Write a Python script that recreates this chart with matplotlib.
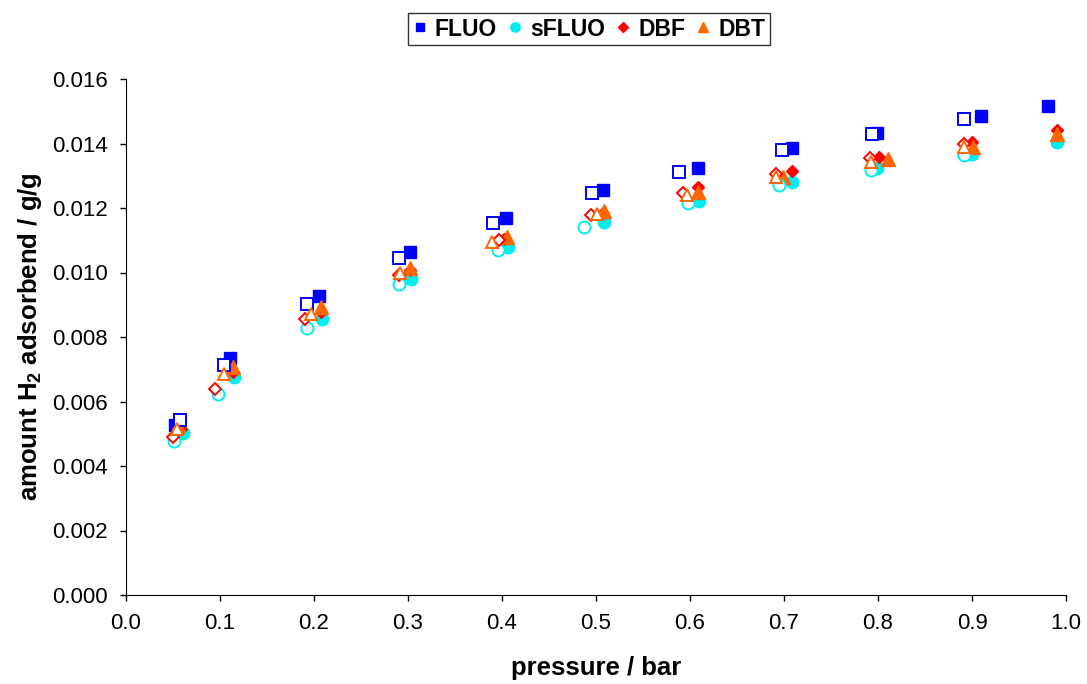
import numpy as np
import matplotlib
matplotlib.use("Agg")
import matplotlib.pyplot as plt
from matplotlib.lines import Line2D

plt.rcParams['font.family'] = ['Liberation Sans', 'DejaVu Sans']
plt.rcParams['mathtext.fontset'] = 'custom'
plt.rcParams['mathtext.rm'] = 'Liberation Sans'
plt.rcParams['mathtext.bf'] = 'Liberation Sans:bold'

# adsorption (filled markers)
fluo_ads_p = [0.052, 0.111, 0.205, 0.302, 0.404, 0.507, 0.609, 0.709, 0.799, 0.910, 0.981]
fluo_ads_v = [0.00527, 0.00735, 0.00927, 0.01064, 0.01169, 0.01256, 0.01324, 0.01386, 0.01433, 0.01485, 0.01516]
sfluo_ads_p = [0.061, 0.115, 0.208, 0.303, 0.406, 0.508, 0.610, 0.709, 0.799, 0.900, 0.990]
sfluo_ads_v = [0.00502, 0.00676, 0.00856, 0.00980, 0.01079, 0.01156, 0.01222, 0.01280, 0.01324, 0.01367, 0.01405]
dbf_ads_p = [0.058, 0.114, 0.207, 0.302, 0.402, 0.507, 0.609, 0.709, 0.801, 0.900, 0.990]
dbf_ads_v = [0.00515, 0.00690, 0.00878, 0.01008, 0.01104, 0.01185, 0.01265, 0.01315, 0.01358, 0.01405, 0.01442]
dbt_ads_p = [0.055, 0.114, 0.207, 0.302, 0.405, 0.508, 0.609, 0.699, 0.811, 0.901, 0.990]
dbt_ads_v = [0.00527, 0.00707, 0.00893, 0.01014, 0.01110, 0.01190, 0.01250, 0.01296, 0.01352, 0.01389, 0.01430]

# desorption (open markers)
fluo_des_p = [0.057, 0.104, 0.193, 0.290, 0.390, 0.496, 0.588, 0.698, 0.794, 0.891]
fluo_des_v = [0.00543, 0.00713, 0.00902, 0.01045, 0.01153, 0.01246, 0.01312, 0.01380, 0.01430, 0.01476]
sfluo_des_p = [0.051, 0.098, 0.193, 0.290, 0.396, 0.487, 0.598, 0.695, 0.793, 0.891]
sfluo_des_v = [0.00478, 0.00623, 0.00828, 0.00964, 0.01070, 0.01141, 0.01216, 0.01271, 0.01318, 0.01364]
dbf_des_p = [0.050, 0.095, 0.190, 0.290, 0.397, 0.495, 0.593, 0.691, 0.792, 0.891]
dbf_des_v = [0.00490, 0.00640, 0.00856, 0.00992, 0.01100, 0.01178, 0.01246, 0.01305, 0.01355, 0.01400]
dbt_des_p = [0.054, 0.104, 0.197, 0.292, 0.389, 0.501, 0.597, 0.691, 0.793, 0.891]
dbt_des_v = [0.00515, 0.00685, 0.00871, 0.01000, 0.01095, 0.01181, 0.01240, 0.01296, 0.01343, 0.01389]

names = ['FLUO', 'sFLUO', 'DBF', 'DBT']
colors = ['#0000FF', '#00EEEE', '#FF0000', '#FF6600']
markers = ['s', 'o', 'D', '^']
sizes = [8.5, 9.0, 6.3, 9.5]

ads = [(fluo_ads_p, fluo_ads_v), (sfluo_ads_p, sfluo_ads_v), (dbf_ads_p, dbf_ads_v), (dbt_ads_p, dbt_ads_v)]
des = [(fluo_des_p, fluo_des_v), (sfluo_des_p, sfluo_des_v), (dbf_des_p, dbf_des_v), (dbt_des_p, dbt_des_v)]

fig = plt.figure(figsize=(10.87, 6.84), dpi=100)
ax = fig.add_axes([126/1087, 1-595/684, 940/1087, 516/684])

for i in range(4):
    p, v = ads[i]
    ax.plot(p, v, linestyle='none', marker=markers[i], markersize=sizes[i],
            color=colors[i], markeredgecolor=colors[i], zorder=3)
for i in range(4):
    p, v = des[i]
    ax.plot(p, v, linestyle='none', marker=markers[i], markersize=sizes[i] - 0.3,
            markerfacecolor='white', markeredgecolor=colors[i], markeredgewidth=1.4, zorder=4)

ax.set_xlim(0, 1.0)
ax.set_ylim(0, 0.016)
ax.set_xticks(np.arange(0, 1.01, 0.1))
ax.set_yticks(np.arange(0, 0.0161, 0.002))
ax.xaxis.set_major_formatter(matplotlib.ticker.FormatStrFormatter('%.1f'))
ax.yaxis.set_major_formatter(matplotlib.ticker.FormatStrFormatter('%.3f'))
ax.tick_params(direction='out', length=4, width=1, labelsize=16, pad=9)
ax.spines['top'].set_visible(False)
ax.spines['right'].set_visible(False)
ax.set_xlabel('pressure / bar', fontsize=18.5, fontweight='bold', labelpad=16)
ax.set_ylabel(r'amount H$_\mathbf{2}$ adsorbend / g/g', fontsize=18.5, fontweight='bold', labelpad=6)

handles = [Line2D([], [], linestyle='none', marker=markers[i], color=colors[i],
                  markersize=sizes[i] * 0.75) for i in range(4)]
leg = fig.legend(handles, names, loc='center', bbox_to_anchor=(589/1087, 1-29/684), ncol=4,
                 frameon=True, fancybox=False, edgecolor='black', handlelength=0.6,
                 handletextpad=0.35, columnspacing=0.5, borderpad=0.2,
                 prop={'weight': 'bold', 'size': 16.5})
leg.get_frame().set_linewidth(1.0)

fig.savefig('out.png', dpi=100)
